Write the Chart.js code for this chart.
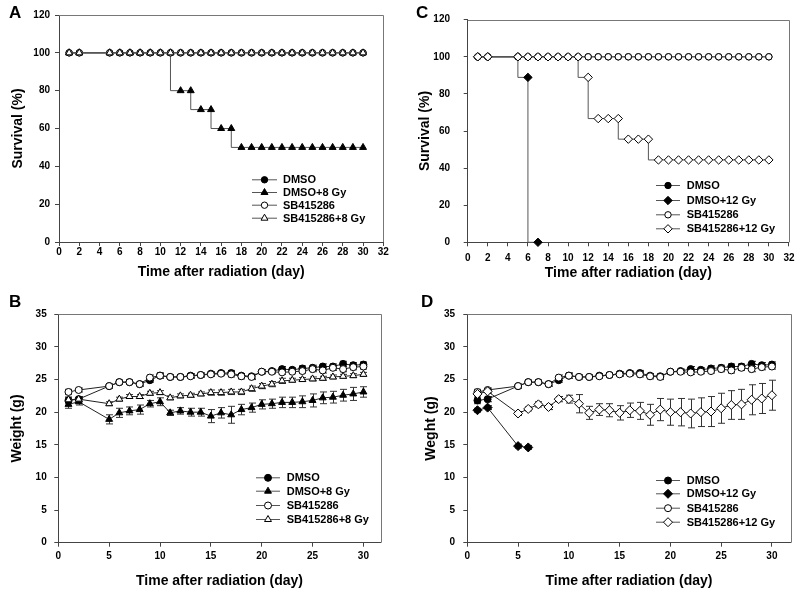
<!DOCTYPE html>
<html lang="en">
<head>
<meta charset="UTF-8">
<title>Survival and body weight after radiation</title>
<style>
  body { margin: 0; background: #fff; font-family: "Liberation Sans", Arial, sans-serif; }
  #fig { position: relative; width: 800px; height: 591px; overflow: hidden; }
  .panel { position: absolute; }
  .tag { position: absolute; font-weight: bold; font-size: 17px; line-height: 1; color: #000; }
</style>
</head>
<body>
<div id="fig">
  <canvas id="chartA" class="panel" width="400" height="290" style="left:0;top:0"></canvas>
  <canvas id="chartB" class="panel" width="400" height="301" style="left:0;top:290px"></canvas>
  <canvas id="chartC" class="panel" width="400" height="290" style="left:400px;top:0"></canvas>
  <canvas id="chartD" class="panel" width="400" height="301" style="left:400px;top:290px"></canvas>
  <div class="tag" style="left:9px;top:4px">A</div>
  <div class="tag" style="left:9px;top:293px">B</div>
  <div class="tag" style="left:416px;top:4px">C</div>
  <div class="tag" style="left:421px;top:293px">D</div>
</div>

<script src="https://cdn.jsdelivr.net/npm/chart.js"></script>
<script>
  // ---- data ----
  const days = [1, 2, 5, 6, 7, 8, 9, 10, 11, 12, 13, 14, 15, 16, 17, 18, 19, 20, 21, 22, 23, 24, 25, 26, 27, 28, 29, 30];
  const daysC12 = [1, 2, 5, 6, 7];
  const daysD12 = [1, 2, 5, 6];

  // x tick labels of the weight panels
  const weightDayTicks = [0, 5, 10, 15, 20, 25, 30];

  // survival (%), panel A
  const survA_DMSO = [100, 100, 100, 100, 100, 100, 100, 100, 100, 100, 100, 100, 100, 100, 100, 100, 100, 100, 100, 100, 100, 100, 100, 100, 100, 100, 100, 100];
  const survA_DMSO8 = [100, 100, 100, 100, 100, 100, 100, 100, 100, 80, 80, 70, 70, 60, 60, 50, 50, 50, 50, 50, 50, 50, 50, 50, 50, 50, 50, 50];
  const survA_SB = [100, 100, 100, 100, 100, 100, 100, 100, 100, 100, 100, 100, 100, 100, 100, 100, 100, 100, 100, 100, 100, 100, 100, 100, 100, 100, 100, 100];
  const survA_SB8 = [100, 100, 100, 100, 100, 100, 100, 100, 100, 100, 100, 100, 100, 100, 100, 100, 100, 100, 100, 100, 100, 100, 100, 100, 100, 100, 100, 100];

  // survival (%), panel C
  const survC_DMSO = [100, 100, 100, 100, 100, 100, 100, 100, 100, 100, 100, 100, 100, 100, 100, 100, 100, 100, 100, 100, 100, 100, 100, 100, 100, 100, 100, 100];
  const survC_DMSO12 = [100, 100, 100, 88.9, 0];
  const survC_SB = [100, 100, 100, 100, 100, 100, 100, 100, 100, 100, 100, 100, 100, 100, 100, 100, 100, 100, 100, 100, 100, 100, 100, 100, 100, 100, 100, 100];
  const survC_SB12 = [100, 100, 100, 100, 100, 100, 100, 100, 100, 88.9, 66.7, 66.7, 66.7, 55.6, 55.6, 55.6, 44.4, 44.4, 44.4, 44.4, 44.4, 44.4, 44.4, 44.4, 44.4, 44.4, 44.4, 44.4];

  // body weight (g), mean and error
  const wDMSO = [21.8, 22.0, 24.0, 24.6, 24.6, 24.3, 24.9, 25.6, 25.4, 25.4, 25.6, 25.7, 25.9, 26.0, 26.0, 25.6, 25.5, 26.2, 26.3, 26.6, 26.5, 26.7, 26.8, 27.0, 27.0, 27.4, 27.2, 27.3];
  const eDMSO = [0.5, 0.4, 0.3, 0.3, 0.3, 0.3, 0.3, 0.4, 0.3, 0.3, 0.3, 0.3, 0.3, 0.3, 0.4, 0.3, 0.3, 0.3, 0.3, 0.4, 0.3, 0.4, 0.4, 0.4, 0.4, 0.4, 0.4, 0.4];
  const wSB = [23.1, 23.4, 24.0, 24.6, 24.6, 24.3, 25.3, 25.6, 25.4, 25.4, 25.5, 25.7, 25.8, 25.9, 25.8, 25.5, 25.4, 26.2, 26.2, 26.1, 26.2, 26.3, 26.6, 26.4, 26.8, 26.6, 26.9, 27.0];
  const eSB = [0.4, 0.3, 0.3, 0.3, 0.3, 0.3, 0.4, 0.4, 0.3, 0.3, 0.3, 0.3, 0.3, 0.3, 0.4, 0.4, 0.4, 0.3, 0.3, 0.3, 0.3, 0.3, 0.4, 0.4, 0.4, 0.4, 0.4, 0.4];
  const wDMSO8 = [21.2, 21.6, 18.9, 19.9, 20.2, 20.4, 21.3, 21.6, 19.9, 20.2, 20.0, 20.0, 19.4, 19.9, 19.6, 20.4, 20.7, 21.2, 21.3, 21.5, 21.5, 21.6, 21.8, 22.2, 22.3, 22.6, 22.8, 23.1];
  const eDMSO8 = [0.6, 0.5, 0.7, 0.7, 0.6, 0.7, 0.5, 0.6, 0.4, 0.5, 0.6, 0.6, 1.0, 0.8, 1.3, 0.8, 0.7, 0.7, 0.7, 0.8, 0.8, 0.9, 1.0, 0.9, 0.9, 0.9, 1.0, 0.8];
  const wSB8 = [21.9, 22.0, 21.3, 22.0, 22.4, 22.4, 22.9, 23.0, 22.2, 22.5, 22.6, 22.8, 23.0, 23.0, 23.1, 23.1, 23.6, 24.0, 24.3, 24.8, 24.9, 25.0, 25.1, 25.2, 25.4, 25.5, 25.6, 25.8];
  const eSB8 = [0.4, 0.4, 0.3, 0.3, 0.3, 0.3, 0.3, 0.3, 0.3, 0.3, 0.3, 0.3, 0.4, 0.4, 0.4, 0.4, 0.4, 0.4, 0.4, 0.4, 0.3, 0.3, 0.3, 0.3, 0.3, 0.3, 0.3, 0.3];
  const wDMSO12 = [20.3, 20.7, 14.8, 14.6];
  const eDMSO12 = [0.3, 0.3, 0.3, 0.3];
  const wSB12 = [22.8, 23.2, 19.8, 20.5, 21.2, 20.8, 22.0, 22.0, 21.3, 19.9, 20.4, 20.3, 19.9, 20.3, 20.2, 19.6, 20.4, 20.0, 20.0, 19.8, 20.0, 20.1, 20.6, 21.1, 21.2, 21.9, 22.1, 22.6];
  const eSB12 = [0.3, 0.3, 0.3, 0.3, 0.4, 0.4, 0.4, 0.6, 1.4, 1.0, 0.9, 1.0, 1.1, 1.1, 1.3, 1.6, 1.7, 2.0, 2.1, 2.2, 2.2, 2.3, 2.3, 2.2, 2.3, 2.3, 2.3, 2.3];

  const FONT = "'Liberation Sans', Arial, Helvetica, sans-serif";

  // ---- marker drawing (same shapes as Chart.js point styles) ----
  function drawMarker(ctx, style, x, y, r, fill) {
    ctx.beginPath();
    if (style === 'circle') {
      ctx.arc(x, y, r, 0, Math.PI * 2);
    } else if (style === 'triangle') {
      ctx.moveTo(x, y - r);
      ctx.lineTo(x + Math.sin(2 * Math.PI / 3) * r, y + r / 2);
      ctx.lineTo(x - Math.sin(2 * Math.PI / 3) * r, y + r / 2);
    } else {
      ctx.moveTo(x, y - r);
      ctx.lineTo(x + r, y);
      ctx.lineTo(x, y + r);
      ctx.lineTo(x - r, y);
    }
    ctx.closePath();
    ctx.fillStyle = fill;
    ctx.fill();
    ctx.strokeStyle = '#000';
    ctx.lineWidth = 1;
    ctx.stroke();
  }

  // error bars under the markers
  const errorBars = {
    id: 'errorBars',
    beforeDatasetsDraw(chart) {
      const ctx = chart.ctx, xs = chart.scales.x, ys = chart.scales.y;
      ctx.save();
      ctx.strokeStyle = '#333';
      ctx.lineWidth = 1;
      chart.data.datasets.forEach(ds => {
        if (!ds.errors) return;
        ds.data.forEach((pt, i) => {
          const e = ds.errors[i];
          const px = Math.round(xs.getPixelForValue(pt.x)) + 0.5;
          const top = ys.getPixelForValue(pt.y + e);
          const bot = ys.getPixelForValue(pt.y - e);
          ctx.beginPath();
          ctx.moveTo(px, top); ctx.lineTo(px, bot);
          ctx.moveTo(px - 3.5, top); ctx.lineTo(px + 3.5, top);
          ctx.moveTo(px - 3.5, bot); ctx.lineTo(px + 3.5, bot);
          ctx.stroke();
        });
      });
      ctx.restore();
    }
  };

  // top and right edge of the plot box
  const frame = {
    id: 'frame',
    beforeDatasetsDraw(chart) {
      const {ctx, chartArea: a} = chart;
      ctx.save();
      ctx.strokeStyle = '#777';
      ctx.lineWidth = 1;
      ctx.beginPath();
      ctx.moveTo(a.left, Math.round(a.top) + 0.5);
      ctx.lineTo(Math.round(a.right) + 0.5, Math.round(a.top) + 0.5);
      ctx.lineTo(Math.round(a.right) + 0.5, a.bottom);
      ctx.stroke();
      ctx.restore();
    }
  };

  // legend box inside the plot
  const insetLegend = {
    id: 'insetLegend',
    afterDraw(chart, args, opts) {
      if (!opts || !opts.rows) return;
      const ctx = chart.ctx;
      ctx.save();
      chart.data.datasets.forEach((ds, i) => {
        const y = opts.rows[i];
        ctx.strokeStyle = '#555';
        ctx.lineWidth = 1;
        ctx.beginPath();
        ctx.moveTo(opts.x0, y + 0.5);
        ctx.lineTo(opts.x1, y + 0.5);
        ctx.stroke();
        drawMarker(ctx, ds.pointStyle, (opts.x0 + opts.x1) / 2, y + 0.5, ds.pointRadius, ds.pointBackgroundColor);
        ctx.fillStyle = '#000';
        ctx.font = 'bold 11px ' + FONT;
        ctx.textBaseline = 'middle';
        ctx.textAlign = 'left';
        ctx.fillText(ds.label, opts.tx, y + 1);
      });
      ctx.restore();
    }
  };

  Chart.register(errorBars, frame, insetLegend);

  function makePanel(canvasId, p) {
    const g = p.geo;
    const tickFont = { family: FONT, weight: 'bold', size: 10 };
    const titleFont = { family: FONT, weight: 'bold', size: 14 };
    return new Chart(document.getElementById(canvasId), {
      type: 'line',
      data: {
        datasets: p.series.map((s, i) => ({
          label: s.label,
          data: s.x.map((d, j) => ({ x: d, y: s.y[j] })),
          errors: s.err || null,
          stepped: p.stepped ? 'after' : false,
          borderColor: p.lineColor,
          borderWidth: 1,
          pointStyle: s.style,
          pointRadius: s.r,
          pointBackgroundColor: s.fill,
          pointBorderColor: '#000',
          pointBorderWidth: 1,
          clip: false,
          order: p.series.length - 1 - i
        }))
      },
      options: {
        responsive: false,
        animation: false,
        devicePixelRatio: 1,
        layout: { padding: { left: 0, top: g.padTop, right: g.padRight, bottom: 0 } },
        plugins: {
          legend: { display: false },
          tooltip: { enabled: false },
          insetLegend: p.legend
        },
        scales: {
          x: {
            type: 'linear',
            min: 0,
            max: p.xMax,
            afterFit: s => { s.height = g.xAxisH; },
            afterBuildTicks: s => {
              if (p.xTicks) s.ticks = p.xTicks.map(v => ({ value: v }));
            },
            ticks: { stepSize: p.xStep, autoSkip: false, maxRotation: 0, color: '#000', font: tickFont, padding: g.xTickPad },
            grid: { drawOnChartArea: false, drawTicks: true, tickLength: 4, color: '#444' },
            border: { display: true, color: '#444' },
            title: { display: true, text: 'Time after radiation (day)', color: '#000', font: titleFont, padding: { top: 0, bottom: g.xTitlePad } }
          },
          y: {
            min: 0,
            max: p.yMax,
            afterFit: s => { s.width = g.yAxisW; },
            ticks: { stepSize: p.yStep, color: '#000', font: tickFont, padding: g.yTickPad },
            grid: { drawOnChartArea: false, drawTicks: true, tickLength: 4, color: '#444' },
            border: { display: true, color: '#444' },
            title: { display: true, text: p.yTitle, color: '#000', font: titleFont, padding: { top: g.yTitlePad, bottom: 0 } }
          }
        }
      }
    });
  }

  makePanel('chartA', {
    stepped: true, lineColor: '#555',
    xMax: 32, xStep: 2, yMax: 120, yStep: 20, yTitle: 'Survival (%)',
    geo: { yAxisW: 59, xAxisH: 48, padTop: 15, padRight: 16.7, yTickPad: 5, xTickPad: 0, yTitlePad: 9.6, xTitlePad: 9.6 },
    legend: { x0: 252, x1: 277, tx: 283, rows: [179.3, 192, 204.7, 217.7] },
    series: [
      { label: 'DMSO', x: days, y: survA_DMSO, style: 'circle', r: 3.2, fill: '#000' },
      { label: 'DMSO+8 Gy', x: days, y: survA_DMSO8, style: 'triangle', r: 4, fill: '#000' },
      { label: 'SB415286', x: days, y: survA_SB, style: 'circle', r: 3.2, fill: '#fff' },
      { label: 'SB415286+8 Gy', x: days, y: survA_SB8, style: 'triangle', r: 4, fill: '#fff' }
    ]
  });

  makePanel('chartB', {
    stepped: false, lineColor: '#222',
    xMax: 31.7, xStep: 5, xTicks: weightDayTicks, yMax: 35, yStep: 5, yTitle: 'Weight (g)',
    geo: { yAxisW: 58.3, xAxisH: 48.3, padTop: 24.3, padRight: 19.3, yTickPad: 7.6, xTickPad: 4, yTitlePad: 9.1, xTitlePad: 1.6 },
    legend: { x0: 256, x1: 280, tx: 286.7, rows: [187.3, 200.7, 215, 229] },
    series: [
      { label: 'DMSO', x: days, y: wDMSO, err: eDMSO, style: 'circle', r: 3.5, fill: '#000' },
      { label: 'DMSO+8 Gy', x: days, y: wDMSO8, err: eDMSO8, style: 'triangle', r: 4, fill: '#000' },
      { label: 'SB415286', x: days, y: wSB, err: eSB, style: 'circle', r: 3.5, fill: '#fff' },
      { label: 'SB415286+8 Gy', x: days, y: wSB8, err: eSB8, style: 'triangle', r: 4, fill: '#fff' }
    ]
  });

  makePanel('chartC', {
    stepped: true, lineColor: '#555',
    xMax: 32, xStep: 2, yMax: 120, yStep: 20, yTitle: 'Survival (%)',
    geo: { yAxisW: 67.7, xAxisH: 47.7, padTop: 15, padRight: 7.7, yTickPad: 13.7, xTickPad: 5.5, yTitlePad: 16.6, xTitlePad: 8.5 },
    legend: { x0: 256, x1: 280, tx: 286.7, rows: [185, 200, 214.3, 228.3] },
    series: [
      { label: 'DMSO', x: days, y: survC_DMSO, style: 'circle', r: 3.2, fill: '#000' },
      { label: 'DMSO+12 Gy', x: daysC12, y: survC_DMSO12, style: 'rectRot', r: 4.2, fill: '#000' },
      { label: 'SB415286', x: days, y: survC_SB, style: 'circle', r: 3.2, fill: '#fff' },
      { label: 'SB415286+12 Gy', x: days, y: survC_SB12, style: 'rectRot', r: 4.2, fill: '#fff' }
    ]
  });

  makePanel('chartD', {
    stepped: false, lineColor: '#222',
    xMax: 31.85, xStep: 5, xTicks: weightDayTicks, yMax: 35, yStep: 5, yTitle: 'Weght (g)',
    geo: { yAxisW: 67.3, xAxisH: 48.3, padTop: 24.3, padRight: 9.3, yTickPad: 8.3, xTickPad: 4, yTitlePad: 22.6, xTitlePad: 1.6 },
    legend: { x0: 256, x1: 280, tx: 286.7, rows: [190, 203.3, 217.7, 231.7] },
    series: [
      { label: 'DMSO', x: days, y: wDMSO, err: eDMSO, style: 'circle', r: 3.5, fill: '#000' },
      { label: 'DMSO+12 Gy', x: daysD12, y: wDMSO12, err: eDMSO12, style: 'rectRot', r: 4.5, fill: '#000' },
      { label: 'SB415286', x: days, y: wSB, err: eSB, style: 'circle', r: 3.5, fill: '#fff' },
      { label: 'SB415286+12 Gy', x: days, y: wSB12, err: eSB12, style: 'rectRot', r: 4.5, fill: '#fff' }
    ]
  });
</script>
</body>
</html>
